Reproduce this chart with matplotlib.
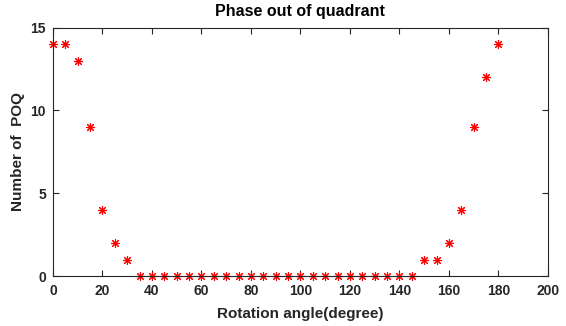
import matplotlib
matplotlib.use("Agg")
import matplotlib.pyplot as plt

# rotation angle (degrees) and number of phase-out-of-quadrant points
angles = [0, 5, 10, 15, 20, 25, 30, 35, 40, 45, 50, 55, 60, 65, 70, 75, 80, 85, 90,
          95, 100, 105, 110, 115, 120, 125, 130, 135, 140, 145, 150, 155, 160, 165,
          170, 175, 180]
poq = [14, 14, 13, 9, 4, 2, 1, 0, 0, 0, 0, 0, 0, 0, 0, 0, 0, 0, 0,
       0, 0, 0, 0, 0, 0, 0, 0, 0, 0, 0, 1, 1, 2, 4,
       9, 12, 14]
xticks = [0, 20, 40, 60, 80, 100, 120, 140, 160, 180, 200]
yticks = [0, 5, 10, 15]

plt.rcParams['font.family'] = ['Liberation Sans', 'DejaVu Sans']
plt.rcParams['font.weight'] = 'bold'

fig = plt.figure(figsize=(5.66, 3.26), dpi=100)
ax = fig.add_axes([0.0936, 0.153, 0.8744, 0.7626])

ax.plot(angles, poq, linestyle='none', marker=(8, 2, 0), color='red',
        markersize=6.5, markeredgewidth=0.8, clip_on=False)

ax.set_xlim(0, 200)
ax.set_ylim(0, 15)
ax.set_xticks(xticks)
ax.set_yticks(yticks)
ax.tick_params(direction='in', top=True, right=True, labelsize=10, length=4,
               width=0.8, colors='#262626', labelcolor='#262626')
ax.tick_params(axis='x', pad=6)
ax.tick_params(axis='y', pad=5)
for lbl in ax.get_xticklabels() + ax.get_yticklabels():
    lbl.set_fontweight('bold')
for s in ax.spines.values():
    s.set_linewidth(0.8)
    s.set_color('#262626')

ax.set_title('Phase out of quadrant', fontsize=11.5, fontweight='bold', pad=8)
ax.set_xlabel('Rotation angle(degree)', fontsize=11, fontweight='bold',
              color='#262626', labelpad=6)
ax.set_ylabel('Number of  POQ', fontsize=11, fontweight='bold',
              color='#262626', labelpad=4)

fig.savefig('out.png', dpi=100)
